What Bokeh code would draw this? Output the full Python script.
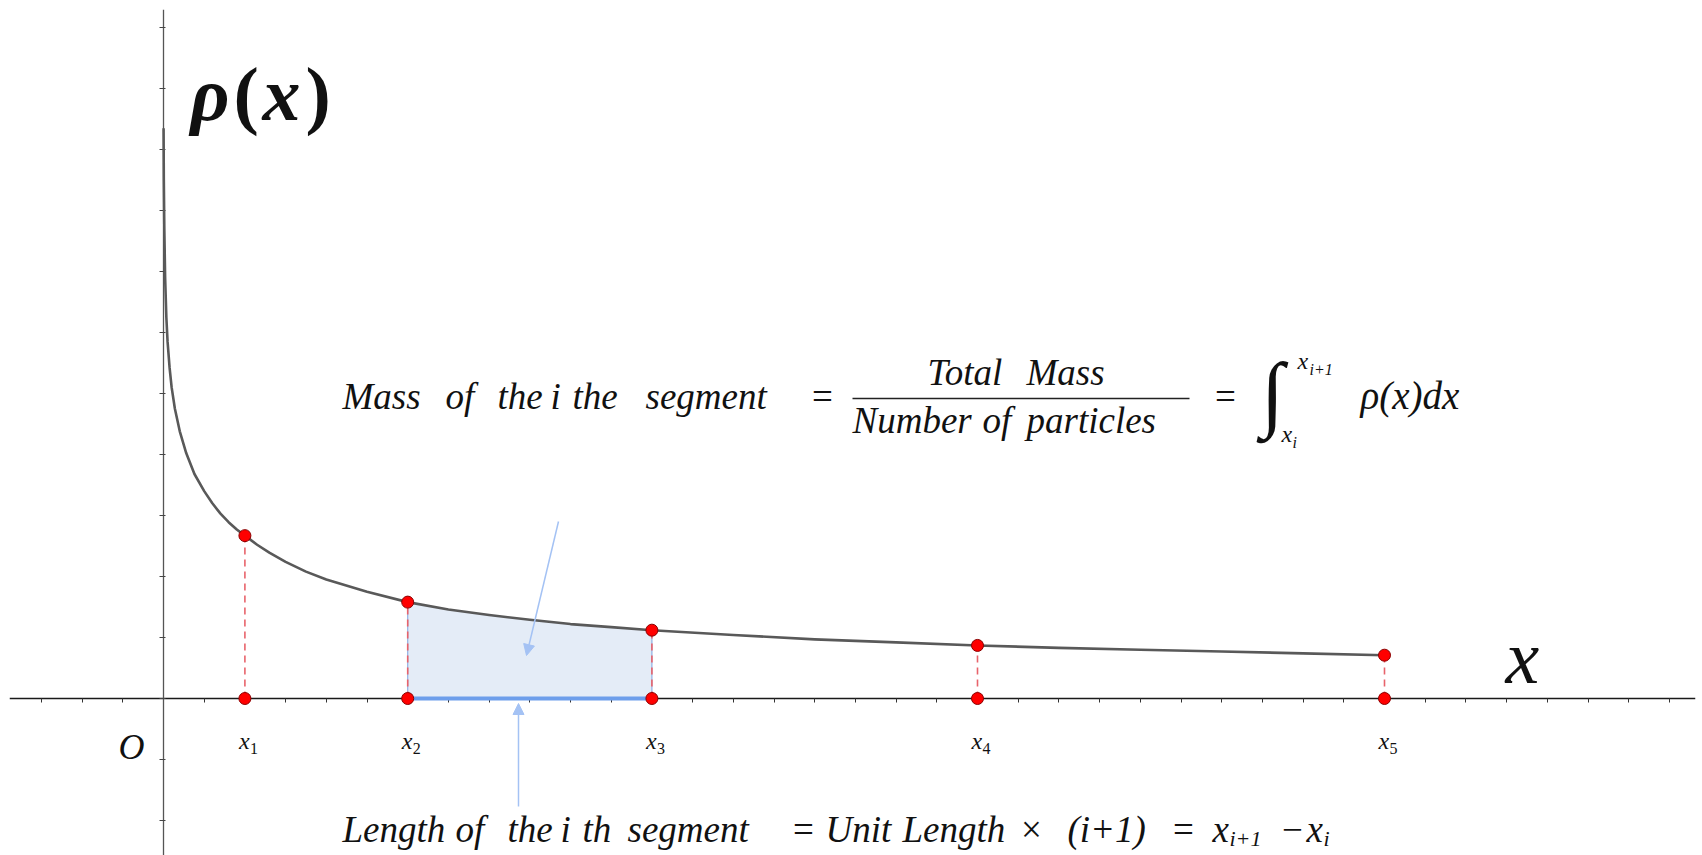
from bokeh.plotting import figure
from bokeh.models import (Range1d, LinearAxis, SingleIntervalTicker, Label, Arrow,
                          NormalHead, CustomJSTickFormatter)
from bokeh.core.properties import value
from bokeh.embed import file_html
from bokeh.resources import INLINE

# Density profile rho(x), sampled along the x axis
curve_x = [0.001, 0.004, 0.01, 0.02, 0.035, 0.05, 0.075, 0.1, 0.14, 0.2, 0.28, 0.38,
           0.5, 0.6, 0.7, 0.8, 0.9, 1.0, 1.15, 1.3, 1.5, 1.75, 2.0, 2.5, 3.0, 3.5, 4.0,
           4.5, 5.0, 5.5, 6.0, 7.0, 8.0, 9.0, 10.0, 11.0, 12.0, 13.0, 14.0, 15.0]
curve_rho = [9.35, 8.5, 7.7, 6.9, 6.25, 5.85, 5.42, 5.1, 4.75, 4.38, 4.02, 3.68,
             3.40, 3.20, 3.03, 2.89, 2.77, 2.67, 2.52, 2.39, 2.24, 2.08, 1.95, 1.75, 1.58,
             1.46, 1.37, 1.29, 1.22, 1.17, 1.12, 1.04, 0.97, 0.92, 0.87, 0.83, 0.80, 0.77,
             0.74, 0.71]

# Particle positions x_1 .. x_5 (unit length 1, segment i has length i+1)
seg_x = [1, 3, 6, 10, 15]
seg_sub = ["1", "2", "3", "4", "5"]
# the highlighted segment [x_2, x_3]
hl_lo, hl_hi = seg_x[1], seg_x[2]

seg_rho = [curve_rho[curve_x.index(v)] for v in seg_x]

# ---- canvas geometry -------------------------------------------------------
W, H = 1702, 855
OX, OY = 163, 698          # canvas pixel of the origin
PX_X, PX_Y = 81.4, 61.0    # pixels per unit on each axis
DROP = 0.33                # baseline correction, in em


def cx(px):
    return (px - OX) / PX_X


def cy(py):
    return (OY - py) / PX_Y


p = figure(width=W, height=H, x_range=Range1d(cx(9), cx(1695)),
           y_range=Range1d(cy(855), cy(9)), x_axis_type=None, y_axis_type=None,
           toolbar_location=None, output_backend="svg",
           min_border_left=9, min_border_right=7, min_border_top=9, min_border_bottom=0)
p.outline_line_color = None
p.background_fill_color = "white"
p.border_fill_color = "white"

blank = CustomJSTickFormatter(code="return ''")
xaxis = LinearAxis(fixed_location=0, ticker=SingleIntervalTicker(interval=0.5),
                   formatter=blank, axis_line_color="#1a1a1a", axis_line_width=1.6,
                   major_tick_line_color="#333333", major_tick_in=0, major_tick_out=4,
                   minor_tick_line_color=None, major_label_text_font_size="1px")
yaxis = LinearAxis(fixed_location=0, ticker=SingleIntervalTicker(interval=1),
                   formatter=blank, axis_line_color="#555555", axis_line_width=1.3,
                   major_tick_line_color="#444444", major_tick_in=2, major_tick_out=4,
                   minor_tick_line_color=None, major_label_text_font_size="1px")
xaxis.level = "underlay"
yaxis.level = "underlay"
p.add_layout(xaxis, "below")
p.add_layout(yaxis, "left")

# shaded mass of the highlighted segment
sx = [v for v in curve_x if hl_lo <= v <= hl_hi]
sy = [curve_rho[curve_x.index(v)] for v in sx]
p.varea(x=sx, y1=[0] * len(sx), y2=sy, fill_color="#e4ecf7")
p.segment(x0=[hl_lo, hl_hi], y0=[0, 0], x1=[hl_lo, hl_hi],
          y1=[seg_rho[1], seg_rho[2]], line_color="#8fb0e3", line_width=1.2)

# dashed drop lines from the curve to the axis
p.segment(x0=seg_x, y0=[0] * 5, x1=seg_x, y1=seg_rho, line_color="#e8636b",
          line_width=1.6, line_dash="7 5")

# density curve
p.line(curve_x, curve_rho, line_color="#595959", line_width=2.6, line_join="round")

# length of the highlighted segment on the axis
p.segment(x0=[hl_lo], y0=[0], x1=[hl_hi], y1=[0], line_color="#6d9eeb", line_width=4)

# particle markers
p.scatter(seg_x + seg_x, [0] * 5 + seg_rho, size=12, fill_color="#ff0000",
          line_color="#8b0000", line_width=1)

# pointer arrows
arrow_col = "#a4c2f4"
p.add_layout(Arrow(end=NormalHead(size=11, fill_color=arrow_col, line_color=arrow_col),
                   x_start=cx(558), y_start=cy(521), x_end=cx(526), y_end=cy(655),
                   line_color=arrow_col, line_width=1.5))
p.add_layout(Arrow(end=NormalHead(size=11, fill_color=arrow_col, line_color=arrow_col),
                   x_start=cx(518), y_start=cy(806), x_end=cx(518), y_end=cy(703),
                   line_color=arrow_col, line_width=1.5))

SERIF = value("Liberation Serif")
INK = "#111111"


def label(text, px, py, size, style="italic", align="left", font="Liberation Serif"):
    p.add_layout(Label(x=cx(px), y=cy(py - DROP * size), text=text, text_font=font,
                       text_font_size=f"{size}px", text_font_style=style,
                       text_align=align, text_baseline="alphabetic", text_color=INK))


# axis names
label("ρ", 190, 119, 76, "bold italic")
label("(", 233, 119, 76, "bold")
label("x", 262, 119, 76, "bold italic")
label(")", 305, 119, 76, "bold")
label("x", 1505, 682, 76)
label("O", 118, 758, 36)

# x_i tick names
p.text(x=seg_x, y=[cy(748 - DROP * 24)] * 5, text=["x"] * 5, x_offset=-6, text_font=SERIF,
       text_font_style="italic", text_font_size="24px", text_baseline="alphabetic",
       text_align="left", text_color=INK)
p.text(x=seg_x, y=[cy(753 - DROP * 16)] * 5, text=seg_sub, x_offset=5, text_font=SERIF,
       text_font_size="16px", text_baseline="alphabetic", text_align="left",
       text_color=INK)

# mass of the segment
TOP = 408
FS = 37
for word, px in [("Mass", 342), ("of", 445), ("the", 497), ("i", 550), ("the", 572),
                 ("segment", 645)]:
    label(word, px, TOP, FS)
label("=", 822, TOP, FS, "normal", "center")
label("Total", 927, 384, FS)
label("Mass", 1026, 384, FS)
p.segment(x0=[cx(852)], y0=[cy(398)], x1=[cx(1189)], y1=[cy(398)],
          line_color="#222222", line_width=1.5)
for word, px in [("Number", 852), ("of", 982), ("particles", 1026)]:
    label(word, px, 432, FS)
label("=", 1225, TOP, FS, "normal", "center")
label("∫", 1272, 420, 84, "normal", "center")
label("x", 1297, 368, 24)
label("i+1", 1309, 374, 16)
label("x", 1281, 441, 24)
label("i", 1292, 447, 16)
label("ρ(x)dx", 1360, TOP, 39)

# length of the segment
BOT = 841
for word, px in [("Length", 342), ("of", 455), ("the", 507), ("i", 560), ("th", 582),
                 ("segment", 627), ("Unit", 825), ("Length", 902), ("(i+1)", 1067)]:
    label(word, px, BOT, FS)
label("=", 803, BOT, FS, "normal", "center")
label("×", 1031, BOT, FS, "normal", "center")
label("=", 1183, BOT, FS, "normal", "center")
label("x", 1212, BOT, FS)
label("i+1", 1229, BOT + 4, 22)
label("−", 1292, BOT, FS, "normal", "center")
label("x", 1306, BOT, FS)
label("i", 1323, BOT + 4, 22)

open("out.html", "w").write(file_html(p, INLINE))
